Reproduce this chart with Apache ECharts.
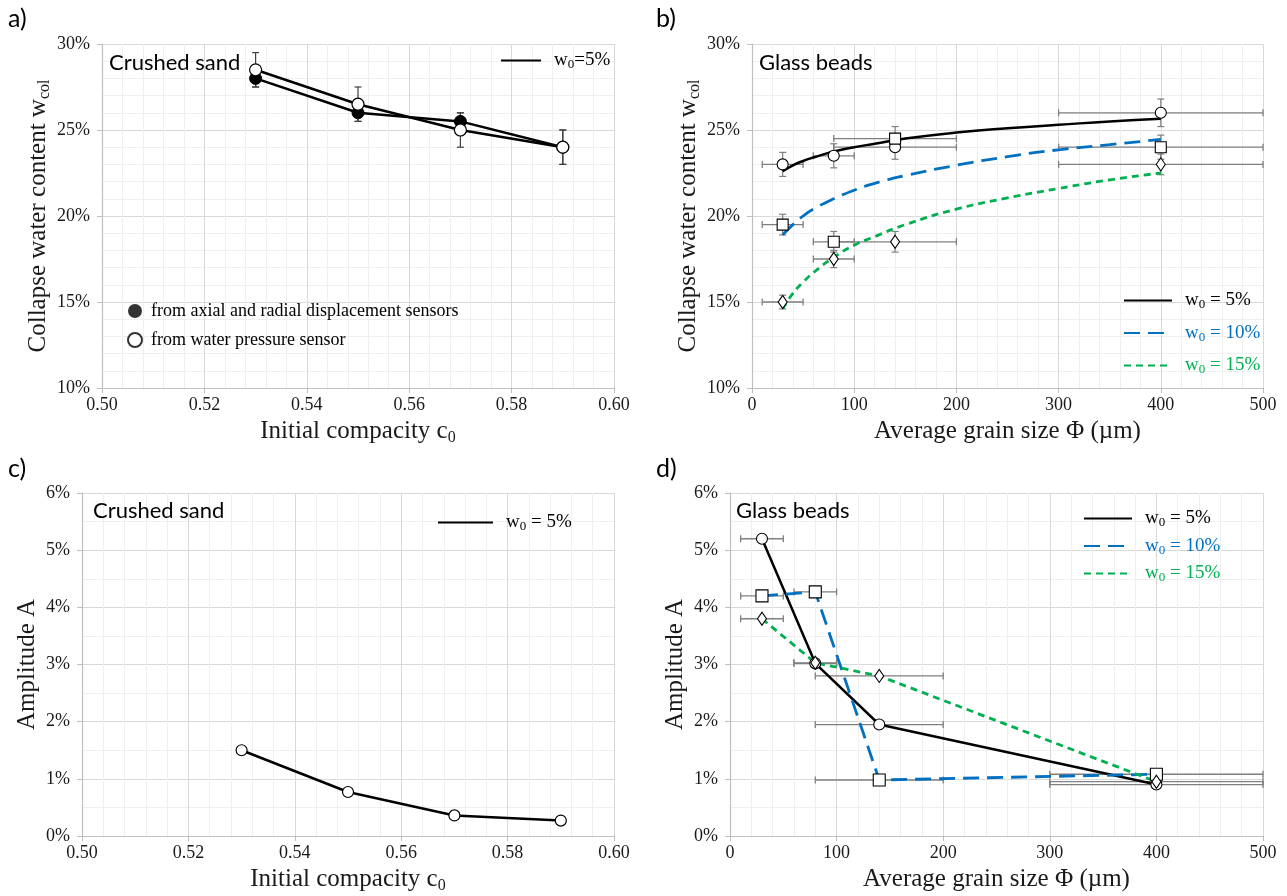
<!DOCTYPE html>
<html>
<head>
<meta charset="utf-8">
<script src="https://cdn.jsdelivr.net/npm/echarts@6/dist/echarts.min.js"></script>
<style>
html,body{margin:0;padding:0;background:#fff;}
#chart{width:1287px;height:896px;}
</style>
</head>
<body>
<div id="chart"></div>
<script>
// ---------- DATA ----------
// Panel a: crushed sand, collapse water content (%) vs initial compacity
const aCompacity = [0.53, 0.55, 0.57, 0.59];
const aWcolSensors = [28.0, 26.0, 25.5, 24.0];
const aWcolSensorsErr = [0.5, 0.5, 0.5, 1.0];
const aWcolPressure = [28.5, 26.5, 25.0, 24.0];
const aWcolPressureErr = [1.0, 1.0, 1.0, 1.0];

// Panel b: glass beads, collapse water content (%) vs grain size (µm)
const bGrain = [30, 80, 140, 400];
const bGrainLo = [10, 60, 80, 300];
const bGrainHi = [50, 100, 200, 500];
const bWcol5 = [23.0, 23.5, 24.0, 26.0];
const bWcol5Err = [0.7, 0.7, 0.7, 0.8];
const bWcol10 = [19.5, 18.5, 24.5, 24.0];
const bWcol10Err = [0.6, 0.6, 0.7, 0.7];
const bWcol15 = [15.0, 17.5, 18.5, 23.0];
const bWcol15Err = [0.4, 0.5, 0.6, 0.6];
// fitted trend curves
const bFitGrain = [30, 40, 50, 60, 80, 100, 120, 150, 200, 250, 300, 350, 400];
const bFit5 = [22.6, 22.95, 23.2, 23.4, 23.75, 24.0, 24.2, 24.5, 24.85, 25.1, 25.3, 25.5, 25.65];
const bFit10 = [18.9, 19.5, 20.0, 20.4, 21.0, 21.5, 21.9, 22.35, 22.95, 23.45, 23.85, 24.15, 24.45];
const bFit15 = [14.6, 15.5, 16.15, 16.7, 17.6, 18.3, 18.8, 19.5, 20.4, 21.05, 21.6, 22.1, 22.5];

// Panel c: crushed sand, amplitude (%) vs initial compacity
const cCompacity = [0.53, 0.55, 0.57, 0.59];
const cAmp5 = [1.5, 0.77, 0.36, 0.27];

// Panel d: glass beads, amplitude (%) vs grain size (µm)
const dGrain = [30, 80, 140, 400];
const dGrainLo = [10, 60, 80, 300];
const dGrainHi = [50, 100, 200, 500];
const dAmp5 = [5.2, 3.02, 1.95, 0.9];
const dAmp10 = [4.2, 4.27, 0.98, 1.08];
const dAmp15 = [3.8, 3.03, 2.8, 0.95];

// ---------- STYLE ----------
const SERIF = 'Liberation Serif';
const SANS = 'Lato';
const BLUE = '#0070C0';
const GREEN = '#00B050';
const BLACK = '#000000';
const ERRC = '#7f7f7f';
const TXT = '#1a1a1a';

const zip = (xs, ys) => xs.map((x, i) => [x, ys[i]]);

function errV(ax, xs, ys, errs, color) {
  return {
    type: 'custom', xAxisIndex: ax, yAxisIndex: ax, z: 1, silent: true,
    data: xs.map((x, i) => [x, ys[i] - errs[i], ys[i] + errs[i]]),
    renderItem: (p, api) => {
      const lo = api.coord([api.value(0), api.value(1)]);
      const hi = api.coord([api.value(0), api.value(2)]);
      const c = 3.5, st = {stroke: color, lineWidth: 1.2};
      return {type: 'group', children: [
        {type: 'line', shape: {x1: lo[0], y1: lo[1], x2: hi[0], y2: hi[1]}, style: st},
        {type: 'line', shape: {x1: lo[0] - c, y1: lo[1], x2: lo[0] + c, y2: lo[1]}, style: st},
        {type: 'line', shape: {x1: hi[0] - c, y1: hi[1], x2: hi[0] + c, y2: hi[1]}, style: st}
      ]};
    }
  };
}
function errH(ax, los, his, ys, color) {
  return {
    type: 'custom', xAxisIndex: ax, yAxisIndex: ax, z: 1, silent: true,
    data: ys.map((y, i) => [los[i], his[i], y]),
    renderItem: (p, api) => {
      const lo = api.coord([api.value(0), api.value(2)]);
      const hi = api.coord([api.value(1), api.value(2)]);
      const c = 3.5, st = {stroke: color, lineWidth: 1.3};
      return {type: 'group', children: [
        {type: 'line', shape: {x1: lo[0], y1: lo[1], x2: hi[0], y2: hi[1]}, style: st},
        {type: 'line', shape: {x1: lo[0], y1: lo[1] - c, x2: lo[0], y2: lo[1] + c}, style: st},
        {type: 'line', shape: {x1: hi[0], y1: hi[1] - c, x2: hi[0], y2: hi[1] + c}, style: st}
      ]};
    }
  };
}

const axisLine = {show: true, lineStyle: {color: '#bfbfbf', width: 1.2}};
const axisTick = {show: true, length: 5, lineStyle: {color: '#bfbfbf'}};
const splitLine = {show: true, lineStyle: {color: '#d9d9d9', width: 1}};
const minorSplitLine = {show: true, lineStyle: {color: '#efefef', width: 1}};
const labelStyle = {fontFamily: SERIF, fontSize: 18, color: TXT};
const nameRich = {
  m: {fontFamily: SERIF, fontSize: 25, color: TXT},
  s: {fontFamily: SERIF, fontSize: 16, color: TXT, verticalAlign: 'bottom', lineHeight: 17}
};
const nameStyle = {fontFamily: SERIF, fontSize: 25, color: TXT, lineHeight: 29, rich: nameRich};

function xAx(idx, min, max, interval, name, fmt) {
  return {
    type: 'value', gridIndex: idx, min, max, interval,
    name, nameLocation: 'middle', nameGap: 29, nameTextStyle: nameStyle,
    axisLine, axisTick, splitLine,
    minorTick: {show: false, splitNumber: 5}, minorSplitLine,
    axisLabel: Object.assign({margin: 8, formatter: fmt}, labelStyle)
  };
}
function yAx(idx, min, max, interval, minorN, name, gap) {
  return {
    type: 'value', gridIndex: idx, min, max, interval,
    name, nameLocation: 'middle', nameGap: gap, nameTextStyle: nameStyle,
    axisLine, axisTick, splitLine,
    minorTick: {show: false, splitNumber: minorN}, minorSplitLine,
    axisLabel: Object.assign({margin: 12, formatter: '{value}%'}, labelStyle)
  };
}

const legRich = {};
[['k', BLACK], ['b', BLUE], ['g', GREEN]].forEach(([k, c]) => {
  legRich['m' + k] = {fontFamily: SERIF, fontSize: 19, color: c, lineHeight: 22};
  legRich['p' + k] = {fontFamily: SERIF, fontSize: 19, color: c, lineHeight: 22, padding: [0, 0, 0, 8]};
  legRich['s' + k] = {fontFamily: SERIF, fontSize: 13, color: c, lineHeight: 14, verticalAlign: 'bottom'};
});
legRich.t = {fontFamily: SERIF, fontSize: 18, color: BLACK, lineHeight: 22, padding: [0, 0, 0, 4]};

const legendText = {
  'aLeg5': '{pk|w}{sk|0}{mk|=5%}',
  'aLegSensors': '{t|from axial and radial displacement sensors}',
  'aLegPressure': '{t|from water pressure sensor}',
  'bLeg5': '{pk|w}{sk|0}{mk| = 5%}',
  'bLeg10': '{pb|w}{sb|0}{mb| = 10%}',
  'bLeg15': '{pg|w}{sg|0}{mg| = 15%}',
  'cLeg5': '{pk|w}{sk|0}{mk| = 5%}',
  'dLeg5': '{pk|w}{sk|0}{mk| = 5%}',
  'dLeg10': '{pb|w}{sb|0}{mb| = 10%}',
  'dLeg15': '{pg|w}{sg|0}{mg| = 15%}'
};
function legend(names, left, top, gap, w) {
  return {
    data: names, left, top, orient: 'vertical', padding: 0, itemGap: gap,
    itemWidth: w, itemHeight: 14, selectedMode: false,
    itemStyle: {opacity: 0},
    formatter: n => legendText[n],
    textStyle: {rich: legRich}
  };
}
function dummyLine(ax, name, color, type, width) {
  return {type: 'line', name, xAxisIndex: ax, yAxisIndex: ax, data: [], symbol: 'none',
    lineStyle: {color, type, width}, itemStyle: {color}};
}

const titleStyle = (size, fam) => ({fontFamily: fam, fontSize: size, fontWeight: 'normal', color: BLACK});

const option = {
  animation: false,
  backgroundColor: '#fff',
  title: [
    {text: 'a)', left: 8, top: 6, padding: 0, textStyle: titleStyle(25, SANS)},
    {text: 'b)', left: 656, top: 6, padding: 0, textStyle: titleStyle(25, SANS)},
    {text: 'c)', left: 8, top: 456, padding: 0, textStyle: titleStyle(25, SANS)},
    {text: 'd)', left: 656, top: 456, padding: 0, textStyle: titleStyle(25, SANS)},
    {text: 'Crushed sand', left: 109, top: 52, padding: 0, textStyle: titleStyle(22, SANS)},
    {text: 'Glass beads', left: 759, top: 52, padding: 0, textStyle: titleStyle(22, SANS)},
    {text: 'Crushed sand', left: 93, top: 500, padding: 0, textStyle: titleStyle(22, SANS)},
    {text: 'Glass beads', left: 736, top: 500, padding: 0, textStyle: titleStyle(22, SANS)}
  ],
  grid: [
    {left: 102, top: 44, width: 512, height: 344},
    {left: 752, top: 44, width: 511, height: 344},
    {left: 82, top: 493, width: 532, height: 343},
    {left: 730, top: 493, width: 533, height: 343}
  ],
  xAxis: [
    xAx(0, 0.5, 0.6, 0.02, '{m|Initial compacity c}{s|0}', v => v.toFixed(2)),
    xAx(1, 0, 500, 100, '{m|Average grain size Φ (µm)}', '{value}'),
    xAx(2, 0.5, 0.6, 0.02, '{m|Initial compacity c}{s|0}', v => v.toFixed(2)),
    xAx(3, 0, 500, 100, '{m|Average grain size Φ (µm)}', '{value}')
  ],
  yAxis: [
    yAx(0, 10, 30, 5, 5, '{m|Collapse water content w}{s|col}', 48),
    yAx(1, 10, 30, 5, 5, '{m|Collapse water content w}{s|col}', 48),
    yAx(2, 0, 6, 1, 2, '{m|Amplitude A}', 36),
    yAx(3, 0, 6, 1, 2, '{m|Amplitude A}', 40)
  ],
  legend: [
    legend(['aLeg5'], 500, 51, 10, 40),
    Object.assign(legend(['aLegSensors', 'aLegPressure'], 127, 302, 11, 14), {itemStyle: {}}),
    legend(['bLeg5', 'bLeg10', 'bLeg15'], 1123, 291, 12, 48),
    legend(['cLeg5'], 437, 513, 10, 55),
    legend(['dLeg5', 'dLeg10', 'dLeg15'], 1083, 509, 7, 48)
  ],
  series: [
    // ---- panel a ----
    errV(0, aCompacity, aWcolSensors, aWcolSensorsErr, '#404040'),
    errV(0, aCompacity, aWcolPressure, aWcolPressureErr, '#404040'),
    {type: 'line', name: 'aSensors', xAxisIndex: 0, yAxisIndex: 0, z: 3,
      data: zip(aCompacity, aWcolSensors), symbol: 'circle', symbolSize: 12,
      lineStyle: {color: BLACK, width: 2.5}, itemStyle: {color: BLACK, borderColor: BLACK}},
    {type: 'line', name: 'aPressure', xAxisIndex: 0, yAxisIndex: 0, z: 4,
      data: zip(aCompacity, aWcolPressure), symbol: 'circle', symbolSize: 12,
      lineStyle: {color: BLACK, width: 2.5}, itemStyle: {color: '#fff', borderColor: BLACK, borderWidth: 1.2}},
    dummyLine(0, 'aLeg5', BLACK, 'solid', 2.5),
    {type: 'scatter', name: 'aLegSensors', xAxisIndex: 0, yAxisIndex: 0, data: [], symbol: 'circle',
      itemStyle: {color: BLACK, borderColor: BLACK}},
    {type: 'scatter', name: 'aLegPressure', xAxisIndex: 0, yAxisIndex: 0, data: [], symbol: 'circle',
      itemStyle: {color: '#fff', borderColor: BLACK, borderWidth: 1.2}},

    // ---- panel b ----
    errH(1, bGrainLo, bGrainHi, bWcol5, ERRC),
    errH(1, bGrainLo, bGrainHi, bWcol10, ERRC),
    errH(1, bGrainLo, bGrainHi, bWcol15, ERRC),
    errV(1, bGrain, bWcol5, bWcol5Err, ERRC),
    errV(1, bGrain, bWcol10, bWcol10Err, ERRC),
    errV(1, bGrain, bWcol15, bWcol15Err, ERRC),
    {type: 'line', name: 'bFit5', xAxisIndex: 1, yAxisIndex: 1, z: 2, smooth: true, symbol: 'none',
      data: zip(bFitGrain, bFit5), lineStyle: {color: BLACK, width: 2.5}},
    {type: 'line', name: 'bFit10', xAxisIndex: 1, yAxisIndex: 1, z: 2, smooth: true, symbol: 'none',
      data: zip(bFitGrain, bFit10), lineStyle: {color: BLUE, width: 2.8, type: [16, 8]}},
    {type: 'line', name: 'bFit15', xAxisIndex: 1, yAxisIndex: 1, z: 2, smooth: true, symbol: 'none',
      data: zip(bFitGrain, bFit15), lineStyle: {color: GREEN, width: 2.8, type: [7, 5]}},
    {type: 'scatter', name: 'bPts5', xAxisIndex: 1, yAxisIndex: 1, z: 5, symbol: 'circle', symbolSize: 11,
      data: zip(bGrain, bWcol5), itemStyle: {color: '#fff', borderColor: BLACK, borderWidth: 1.1, opacity: 1}},
    {type: 'scatter', name: 'bPts10', xAxisIndex: 1, yAxisIndex: 1, z: 5, symbol: 'rect', symbolSize: 11,
      data: zip(bGrain, bWcol10), itemStyle: {color: '#fff', borderColor: BLACK, borderWidth: 1.1, opacity: 1}},
    {type: 'scatter', name: 'bPts15', xAxisIndex: 1, yAxisIndex: 1, z: 5, symbol: 'diamond', symbolSize: [9, 13],
      data: zip(bGrain, bWcol15), itemStyle: {color: '#fff', borderColor: BLACK, borderWidth: 1.1, opacity: 1}},
    dummyLine(1, 'bLeg5', BLACK, 'solid', 2.5),
    dummyLine(1, 'bLeg10', BLUE, [16, 8], 2.8),
    dummyLine(1, 'bLeg15', GREEN, [7, 5], 2.8),

    // ---- panel c ----
    {type: 'line', name: 'cAmp', xAxisIndex: 2, yAxisIndex: 2, z: 3,
      data: zip(cCompacity, cAmp5), symbol: 'circle', symbolSize: 11,
      lineStyle: {color: BLACK, width: 2.5}, itemStyle: {color: '#fff', borderColor: BLACK, borderWidth: 1.2}},
    dummyLine(2, 'cLeg5', BLACK, 'solid', 2.5),

    // ---- panel d ----
    errH(3, dGrainLo, dGrainHi, dAmp5, ERRC),
    errH(3, dGrainLo, dGrainHi, dAmp10, ERRC),
    errH(3, dGrainLo, dGrainHi, dAmp15, ERRC),
    {type: 'line', name: 'dAmp5', xAxisIndex: 3, yAxisIndex: 3, z: 3,
      data: zip(dGrain, dAmp5), symbol: 'circle', symbolSize: 11,
      lineStyle: {color: BLACK, width: 2.5}, itemStyle: {color: '#fff', borderColor: BLACK, borderWidth: 1.1}},
    {type: 'line', name: 'dAmp10', xAxisIndex: 3, yAxisIndex: 3, z: 3,
      data: zip(dGrain, dAmp10), symbol: 'rect', symbolSize: 12,
      lineStyle: {color: BLUE, width: 2.8, type: [16, 8]}, itemStyle: {color: '#fff', borderColor: BLACK, borderWidth: 1.1}},
    {type: 'line', name: 'dAmp15', xAxisIndex: 3, yAxisIndex: 3, z: 3,
      data: zip(dGrain, dAmp15), symbol: 'diamond', symbolSize: [9, 13],
      lineStyle: {color: GREEN, width: 2.8, type: [7, 5]}, itemStyle: {color: '#fff', borderColor: BLACK, borderWidth: 1.1}},
    dummyLine(3, 'dLeg5', BLACK, 'solid', 2.5),
    dummyLine(3, 'dLeg10', BLUE, [16, 8], 2.8),
    dummyLine(3, 'dLeg15', GREEN, [7, 5], 2.8)
  ]
};

const chart = echarts.init(document.getElementById('chart'), null, {renderer: 'canvas'});
chart.setOption(option);
</script>
</body>
</html>
